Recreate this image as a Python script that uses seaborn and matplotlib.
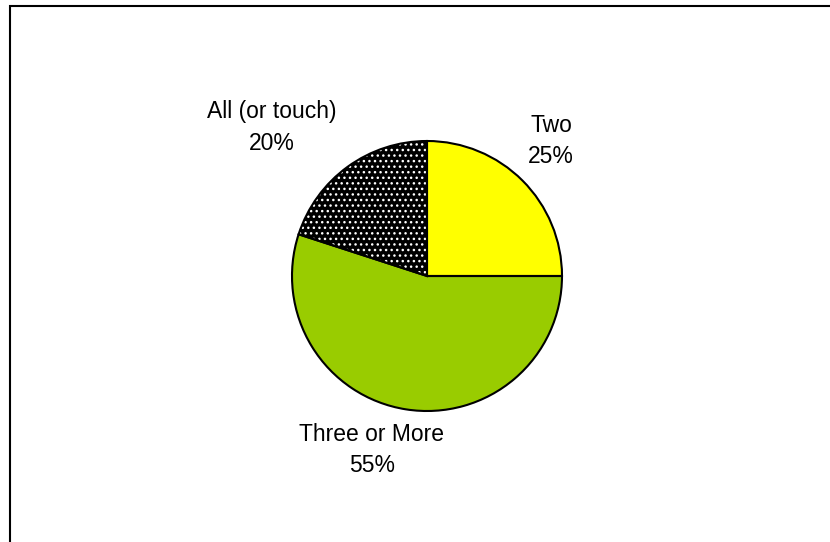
import matplotlib
matplotlib.use("Agg")
import matplotlib.pyplot as plt
import seaborn as sns
from matplotlib.patches import Rectangle

# Data
categories = ["Two", "Three or More", "All (or touch)"]
shares = [25, 55, 20]
slice_colors = ["#FFFF00", "#99CC00", "#000000"]
slice_hatches = ["", "", "..."]

sns.set_style("white")
plt.rcParams["font.family"] = ["Liberation Sans", "DejaVu Sans"]
plt.rcParams["text.color"] = "black"

fig = plt.figure(figsize=(8.30, 5.42), dpi=100)

# pie axes: centre ~ (427, 276) px, radius ~135 px
ax = fig.add_axes([292 / 830, 131 / 542, 270 / 830, 270 / 542])

# filled slices (white hatch dots on the black slice)
ax.pie(shares, colors=slice_colors, hatch=slice_hatches, startangle=90,
       counterclock=False, radius=1,
       wedgeprops=dict(edgecolor="white", linewidth=0))
# black outlines on top
ax.pie(shares, startangle=90, counterclock=False, radius=1,
       wedgeprops=dict(fill=False, edgecolor="black", linewidth=1.5))
ax.set_xlim(-1, 1)
ax.set_ylim(-1, 1)
ax.set_aspect("equal")
ax.axis("off")

# label spots (in pie radius units), placed like the original
label_pos = [(0.92, 1.0), (-0.41, -1.29), (-1.15, 1.10)]
for cat, val, (lx, ly) in zip(categories, shares, label_pos):
    ax.text(lx, ly, f"{cat}\n{val}%", ha="center", va="center",
            fontsize=16.5, linespacing=1.48, color="black", clip_on=False)

# outer frame (right/bottom edges fall off the canvas)
fig.add_artist(Rectangle((10 / 830, -0.1), 1.5, (542 - 6) / 542 + 0.1,
                         transform=fig.transFigure, fill=False,
                         edgecolor="black", linewidth=1.5))

fig.savefig("out.png", dpi=100, facecolor="white")
